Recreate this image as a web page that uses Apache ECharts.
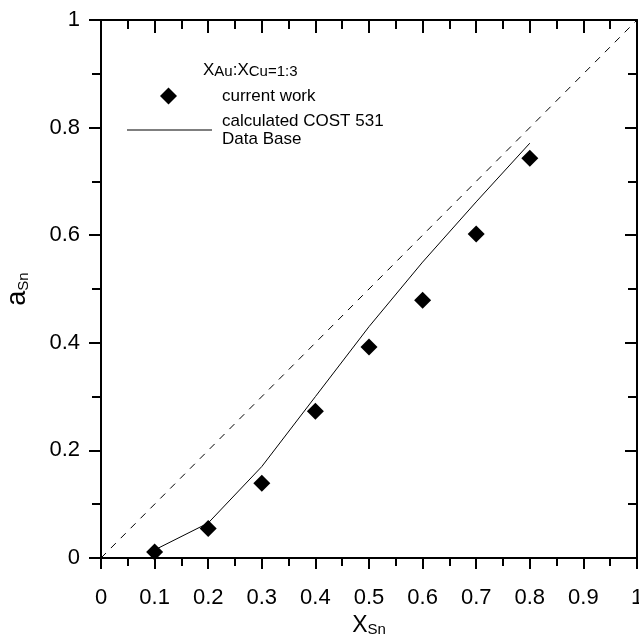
<!DOCTYPE html>
<html>
<head>
<meta charset="utf-8">
<script src="https://cdn.jsdelivr.net/npm/echarts@6/dist/echarts.min.js"></script>
<style>
  html, body { margin: 0; padding: 0; background: #fff; }
  #chart { width: 639px; height: 641px; }
</style>
</head>
<body>
<div id="chart"></div>
<script>
// measured points (current work)
var xMeasured = [0.1, 0.2, 0.3, 0.4, 0.5, 0.6, 0.7, 0.8];
var aMeasured = [0.011, 0.055, 0.139, 0.273, 0.392, 0.479, 0.602, 0.743];
// calculated COST 531 data base
var xCalc = [0.1, 0.2, 0.3, 0.4, 0.5, 0.6, 0.7, 0.8];
var aCalc = [0.015, 0.065, 0.17, 0.30, 0.43, 0.55, 0.662, 0.771];
// ideal (Raoult) line
var xIdeal = [0, 1];
var aIdeal = [0, 1];

var FONT = 'Liberation Sans, Arial, sans-serif';

function pairs(xs, ys) {
    return xs.map(function (x, i) { return [x, ys[i]]; });
}

var chart = echarts.init(document.getElementById('chart'));

// common axis style
var axisLine = { show: true, onZero: false, lineStyle: { color: '#000', width: 2 } };
var tickStyle = { color: '#000', width: 2 };
var legendText = { fontFamily: FONT, fontSize: 17, color: '#000', lineHeight: 18 };

var option = {
    animation: false,
    backgroundColor: '#fff',
    title: {
        left: 198,
        top: 54,
        text: '{x|X}{s|Au}{x|:X}{s|Cu}{e|=1:3}',
        textStyle: {
            rich: {
                x: { fontFamily: FONT, fontWeight: 'normal', fontSize: 17, color: '#000', lineHeight: 20, verticalAlign: 'bottom' },
                s: { fontFamily: FONT, fontWeight: 'normal', fontSize: 15, color: '#000', lineHeight: 8, verticalAlign: 'bottom' },
                e: { fontFamily: FONT, fontWeight: 'normal', fontSize: 15, color: '#000', lineHeight: 19, verticalAlign: 'bottom' }
            }
        }
    },
    legend: [{
        left: 155,
        top: 82,
        itemWidth: 17,
        itemHeight: 17,
        data: [{ name: 'current work', icon: 'diamond' }],
        textStyle: Object.assign({ padding: [0, 0, 0, 40] }, legendText)
    }, {
        left: 122,
        top: 107,
        itemWidth: 85,
        itemHeight: 1,
        data: [{ name: 'calculated COST 531\nData Base', icon: 'rect' }],
        textStyle: Object.assign({ padding: [0, 0, 0, 5] }, legendText)
    }],
    grid: { left: 101, right: 2, top: 20, bottom: 83, outerBoundsMode: 'none' },
    xAxis: [{
        type: 'value',
        position: 'bottom',
        min: 0, max: 1, interval: 0.1,
        name: '{b|X}{s|Sn}',
        nameLocation: 'middle',
        nameGap: 39,
        nameTextStyle: {
            rich: {
                b: { fontFamily: FONT, fontSize: 23, color: '#000', lineHeight: 26, verticalAlign: 'bottom' },
                s: { fontFamily: FONT, fontSize: 15, color: '#000', lineHeight: 6, verticalAlign: 'bottom' }
            }
        },
        axisLine: axisLine,
        axisTick: { show: true, inside: false, length: 11, lineStyle: tickStyle },
        minorTick: { show: true, splitNumber: 2, length: 8, lineStyle: tickStyle },
        axisLabel: { fontFamily: FONT, fontSize: 22, color: '#000', margin: 29 },
        splitLine: { show: false }
    }, {
        type: 'value',
        position: 'top',
        min: 0, max: 1, interval: 0.1,
        axisLine: axisLine,
        axisTick: { show: true, inside: true, length: 13, lineStyle: tickStyle },
        minorTick: { show: true, splitNumber: 2, length: 9, lineStyle: tickStyle },
        axisLabel: { show: false },
        splitLine: { show: false }
    }],
    yAxis: [{
        type: 'value',
        position: 'left',
        min: 0, max: 1, interval: 0.2,
        name: '{b|a}{s|Sn}',
        nameLocation: 'middle',
        nameRotate: 90,
        nameGap: 70,
        nameTextStyle: {
            rich: {
                b: { fontFamily: FONT, fontSize: 27, color: '#000', lineHeight: 26, verticalAlign: 'bottom' },
                s: { fontFamily: FONT, fontSize: 15, color: '#000', lineHeight: 6, verticalAlign: 'bottom' }
            }
        },
        axisLine: axisLine,
        axisTick: { show: true, inside: false, length: 12, lineStyle: tickStyle },
        minorTick: { show: true, splitNumber: 2, length: 9, lineStyle: tickStyle },
        axisLabel: { fontFamily: FONT, fontSize: 22, color: '#000', margin: 21 },
        splitLine: { show: false }
    }, {
        type: 'value',
        position: 'right',
        min: 0, max: 1, interval: 0.2,
        axisLine: axisLine,
        axisTick: { show: true, inside: true, length: 12, lineStyle: tickStyle },
        minorTick: { show: true, splitNumber: 2, length: 9, lineStyle: tickStyle },
        axisLabel: { show: false },
        splitLine: { show: false }
    }],
    series: [{
        name: 'ideal',
        type: 'line',
        data: pairs(xIdeal, aIdeal),
        symbol: 'none',
        lineStyle: { color: '#000', width: 1, type: [7, 7] },
        z: 1
    }, {
        name: 'calculated COST 531\nData Base',
        type: 'line',
        data: pairs(xCalc, aCalc),
        symbol: 'none',
        lineStyle: { color: '#000', width: 1 },
        itemStyle: { color: '#000' },
        z: 2
    }, {
        name: 'current work',
        type: 'scatter',
        data: pairs(xMeasured, aMeasured),
        symbol: 'diamond',
        symbolSize: 17,
        itemStyle: { color: '#000', opacity: 1 },
        z: 3
    }]
};

chart.setOption(option);
</script>
</body>
</html>
